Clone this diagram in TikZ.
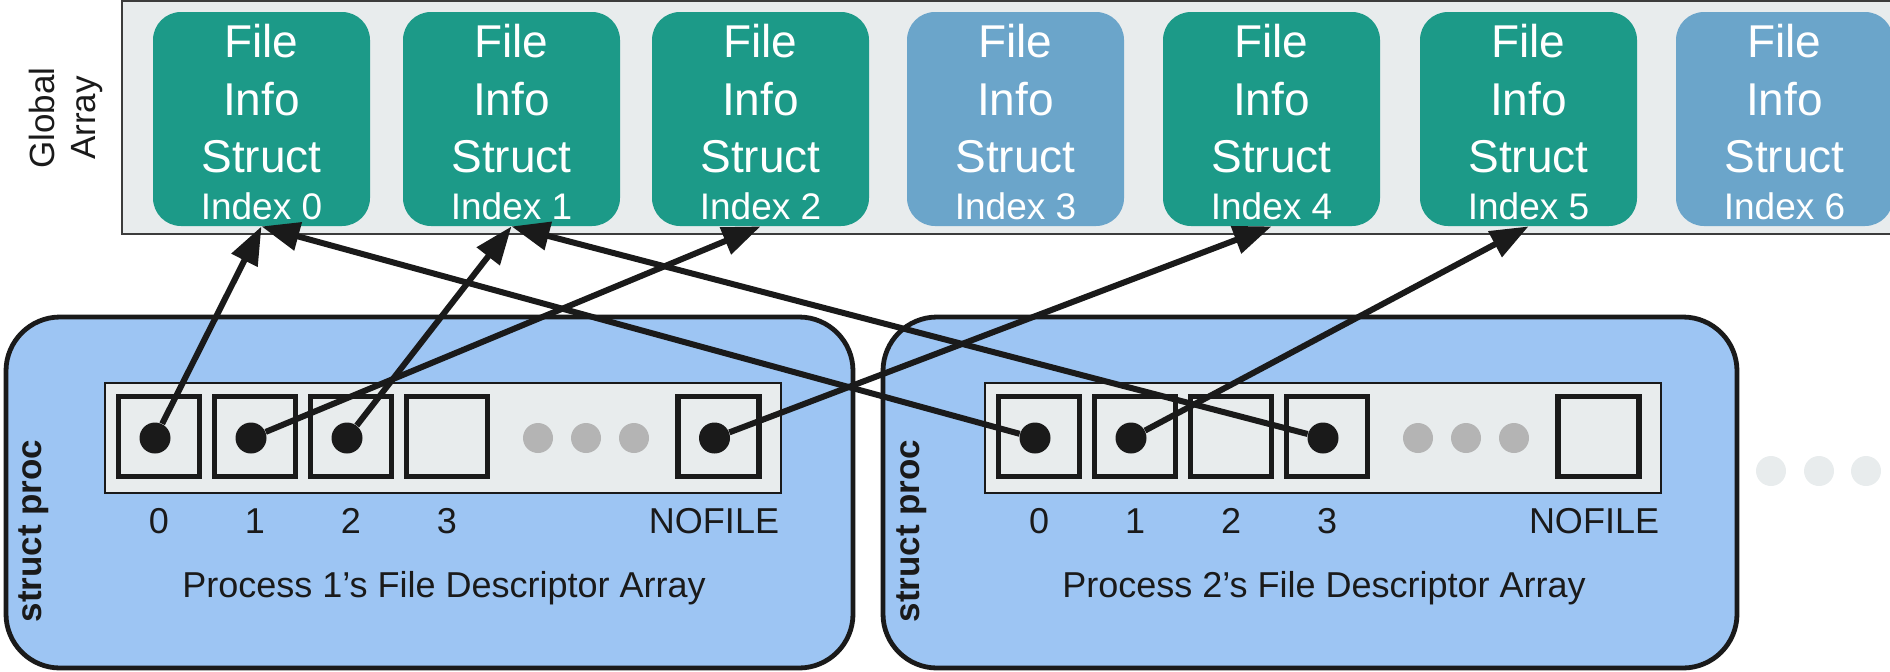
\documentclass[tikz,border=0pt]{standalone}
\usepackage{fontspec}
\setmainfont{Liberation Sans}
\usetikzlibrary{arrows.meta}
\definecolor{fiteal}{HTML}{1C9A88}
\definecolor{fiblue}{HTML}{6BA5CA}
\definecolor{arrgray}{HTML}{E8ECED}
\definecolor{procblue}{HTML}{9DC5F3}
\definecolor{ink}{HTML}{1A1A1A}
\definecolor{dotgray}{HTML}{B4B4B4}
\tikzset{>={Triangle[length=19pt,width=14pt]}}

\begin{document}
\begin{tikzpicture}[x=0.5pt,y=-0.5pt,
  fibox/.style={rounded corners=14pt,minimum width=108.5pt,minimum height=107pt,inner sep=0pt},
  bigtxt/.style={white,anchor=base,font=\fontsize{23}{27}\selectfont},
  idxtxt/.style={white,anchor=base,font=\fontsize{18.5}{22}\selectfont},
  procbox/.style={draw=ink,line width=2.4pt,fill=procblue,rounded corners=27pt},
  cell/.style={draw=ink,line width=2.7pt,fill=arrgray,minimum width=40.5pt,minimum height=40pt,inner sep=0pt},
  fd/.style={circle,fill=ink,minimum size=15.5pt,inner sep=0pt},
  more/.style={circle,fill=dotgray,minimum size=15pt,inner sep=0pt},
  lbl/.style={anchor=base,text=ink,font=\fontsize{18}{21}\selectfont},
  link/.style={->,draw=ink,line width=3pt}]
\useasboundingbox (0,0) rectangle (1890,671);

% global array of file info structs
\draw[fill=arrgray,draw=ink!85,line width=1pt] (122,1) rectangle (1950,234);
\node[rotate=90,align=center,text=ink,font=\fontsize{17.5}{20.5}\selectfont] (glob) at (66,118) {Global\\Array};
\foreach \i/\x/\c in {0/261.5/fiteal,1/511.5/fiteal,2/760.5/fiteal,3/1015.5/fiblue,4/1271.5/fiteal,5/1528.5/fiteal,6/1784.5/fiblue}{
  \node[fibox,fill=\c] (fi\i) at (\x,119) {};
  \node[bigtxt] (file\i) at (\x,57) {File};
  \node[bigtxt] (info\i) at (\x,115) {Info};
  \node[bigtxt] (struct\i) at (\x,172) {Struct};
  \node[idxtxt] (index\i) at (\x,219) {Index \i};
}

% the two processes
\foreach \p/\o/\l/\r in {1/0/6/853,2/880/883/1737}{
  \draw[procbox] (\l,317) rectangle (\r,668);
  \node[rotate=90,text=ink,font=\bfseries\fontsize{17.5}{20}\selectfont] (sp\p) at (34+\o-2*\p+2,531) {struct proc};
  \draw[fill=arrgray,draw=ink,line width=0.8pt] (105+\o,383) rectangle (781+\o,493);
  \foreach \k/\cx in {0/159,1/255,2/351,3/447}{
    \node[cell] (p\p c\k) at (\cx+\o,436.5) {};
    \node[lbl] (p\p n\k) at (\cx+\o,533) {\k};
  }
  \node[cell] (p\p cN) at (718.5+\o,436.5) {};
  \node[lbl] (p\p nN) at (714+\o,533) {NOFILE};
  \foreach \g in {538,586,634}
    \node[more] (p\p g\g) at (\g+\o,438) {};
  \node[lbl] (title\p) at (444+\o,597) {Process \p’s File Descriptor Array};
}
\foreach \g in {1771,1819,1866}
  \node[more,fill=arrgray] (etc\g) at (\g,471) {};

% open descriptors
\node[fd] (p1d0) at (155,438) {};
\node[fd] (p1d1) at (251,438) {};
\node[fd] (p1d2) at (347,438) {};
\node[fd] (p1dN) at (714.5,438) {};
\node[fd] (p2d0) at (1035,438) {};
\node[fd] (p2d1) at (1131,438) {};
\node[fd] (p2d3) at (1323,438) {};

\draw[link] (p1d0) -- (fi0.south);
\draw[link] (p1d1) -- (fi2.south);
\draw[link] (p1d2) -- (fi1.south);
\draw[link] (p1dN) -- (fi4.south);
\draw[link] (p2d0) -- (fi0.south);
\draw[link] (p2d1) -- (fi5.south);
\draw[link] (p2d3) -- (fi1.south);
\end{tikzpicture}
\end{document}
